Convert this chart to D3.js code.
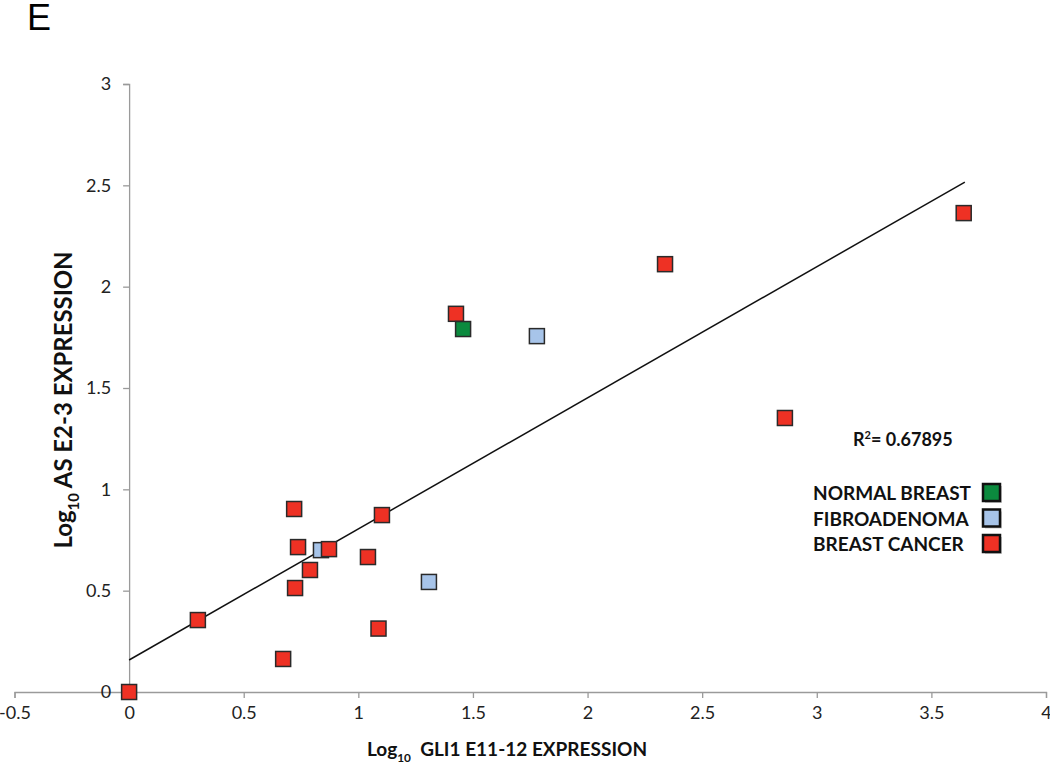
<!DOCTYPE html>
<html><head><meta charset="utf-8">
<script src="https://cdn.jsdelivr.net/npm/d3@7"></script>
<style>body{margin:0;background:#fff;} svg{display:block;}</style>
</head><body>
<svg id="chart" width="1050" height="767"></svg>
<script>
const xTicks = [-0.5, 0, 0.5, 1, 1.5, 2, 2.5, 3, 3.5, 4];
const yTicks = [0, 0.5, 1, 1.5, 2, 2.5, 3];
const groups = ["NORMAL BREAST", "FIBROADENOMA", "BREAST CANCER"];
const groupColors = ["#0b8a3e", "#a7c4e9", "#ee3124"];
const normalX = [1.457];
const normalY = [1.791];
const fibroX = [0.837, 1.308, 1.779];
const fibroY = [0.70, 0.543, 1.756];
const cancerX = [0, 0.30, 0.672, 0.72, 0.737, 0.724, 0.789, 0.872, 1.042, 1.103, 1.088, 1.426, 2.338, 2.861, 3.641];
const cancerY = [0, 0.355, 0.163, 0.903, 0.715, 0.513, 0.602, 0.705, 0.666, 0.873, 0.313, 1.866, 2.111, 1.352, 2.363];
const trendX = [0, 3.646];
const trendY = [0.158, 2.516];
const r2Label = "0.67895";

const svg = d3.select("#chart");
const x = d3.scaleLinear().domain([-0.5, 4]).range([14.5, 1046]);
const y = d3.scaleLinear().domain([0, 3]).range([692, 84]);
const font = "Lato, 'Open Sans', sans-serif";

svg.append("text").attr("x", 27).attr("y", 30).attr("font-family", "'Liberation Sans', Arial, sans-serif")
  .attr("font-size", 36).attr("fill", "#000").text("E");

const xAxis = svg.append("g").attr("transform", `translate(0,${y(0)})`)
  .call(d3.axisBottom(x).tickValues(xTicks).tickSize(6).tickPadding(8).tickFormat(d => d));
const yAxis = svg.append("g").attr("transform", `translate(${x(0)},0)`)
  .call(d3.axisLeft(y).tickValues(yTicks).tickSize(6).tickPadding(12).tickFormat(d => d));
[xAxis, yAxis].forEach(g => {
  g.select(".domain").attr("stroke", "#9a9a9a").attr("stroke-width", 1.3);
  g.selectAll(".tick line").attr("stroke", "#9a9a9a").attr("stroke-width", 1.3);
  g.selectAll(".tick text").attr("font-family", font).attr("font-size", 18).attr("fill", "#222");
});

svg.append("line")
  .attr("x1", x(trendX[0])).attr("y1", y(trendY[0]))
  .attr("x2", x(trendX[1])).attr("y2", y(trendY[1]))
  .attr("stroke", "#111").attr("stroke-width", 1.5);

const sz = 15;
function drawSeries(xs, ys, color) {
  svg.append("g").selectAll("rect").data(xs.map((v, i) => [v, ys[i]])).join("rect")
    .attr("x", d => x(d[0]) - sz / 2).attr("y", d => y(d[1]) - sz / 2)
    .attr("width", sz).attr("height", sz)
    .attr("fill", color).attr("stroke", "#2a2a2a").attr("stroke-width", 1.5);
}
drawSeries(fibroX, fibroY, groupColors[1]);
drawSeries(cancerX, cancerY, groupColors[2]);
drawSeries(normalX, normalY, groupColors[0]);

const r2 = svg.append("text").attr("x", 853).attr("y", 446).attr("font-family", font)
  .attr("font-weight", "bold").attr("font-size", 18).attr("fill", "#111");
r2.append("tspan").text("R");
r2.append("tspan").attr("font-size", 11).attr("dy", -7).text("2");
r2.append("tspan").attr("dy", 7).text("= " + r2Label);

const lg = svg.append("g");
groups.forEach((g, i) => {
  const cy = 493 + i * 25.5;
  lg.append("text").attr("x", 813).attr("y", cy + 7).attr("font-family", font)
    .attr("font-weight", "bold").attr("font-size", 19).attr("fill", "#111").text(g);
  lg.append("rect").attr("x", 985).attr("y", cy - 7).attr("width", 17).attr("height", 17)
    .attr("fill", "#999").attr("opacity", 0.5);
  lg.append("rect").attr("x", 983).attr("y", cy - 9).attr("width", 17).attr("height", 17)
    .attr("fill", groupColors[i]).attr("stroke", "#111").attr("stroke-width", 2.5);
});

function fitTitle(sel, target, base) {
  const w = sel.node().getComputedTextLength();
  const k = target / w;
  sel.attr("font-size", base * k);
  sel.selectAll("tspan.sub").attr("font-size", base * k * 0.62)
    .attr("dy", function() { return +d3.select(this).attr("data-dy") * k; });
  sel.selectAll("tspan.after").attr("dy", function() { return +d3.select(this).attr("data-dy") * k; });
}

const xt = svg.append("text").attr("x", 507).attr("y", 756).attr("text-anchor", "middle")
  .attr("xml:space", "preserve")
  .attr("font-family", font).attr("font-weight", "bold").attr("font-size", 17).attr("fill", "#111");
xt.append("tspan").text("Log");
xt.append("tspan").attr("class", "sub").attr("font-size", 11).attr("dy", 5).attr("data-dy", 5).text("10");
xt.append("tspan").attr("class", "after").attr("dy", -5).attr("data-dy", -5).text("  GLI1 E11-12 EXPRESSION");
fitTitle(xt, 281, 17);

const yt = svg.append("text").attr("transform", "translate(72,400) rotate(-90)").attr("text-anchor", "middle")
  .attr("font-family", font).attr("font-weight", "bold").attr("font-size", 17).attr("fill", "#111");
yt.append("tspan").text("Log");
yt.append("tspan").attr("class", "sub").attr("font-size", 11).attr("dy", 5).attr("data-dy", 5).text("10");
yt.append("tspan").attr("class", "after").attr("dy", -5).attr("data-dy", -5).text(" AS E2-3 EXPRESSION");
fitTitle(yt, 298, 17);
</script>
</body></html>
